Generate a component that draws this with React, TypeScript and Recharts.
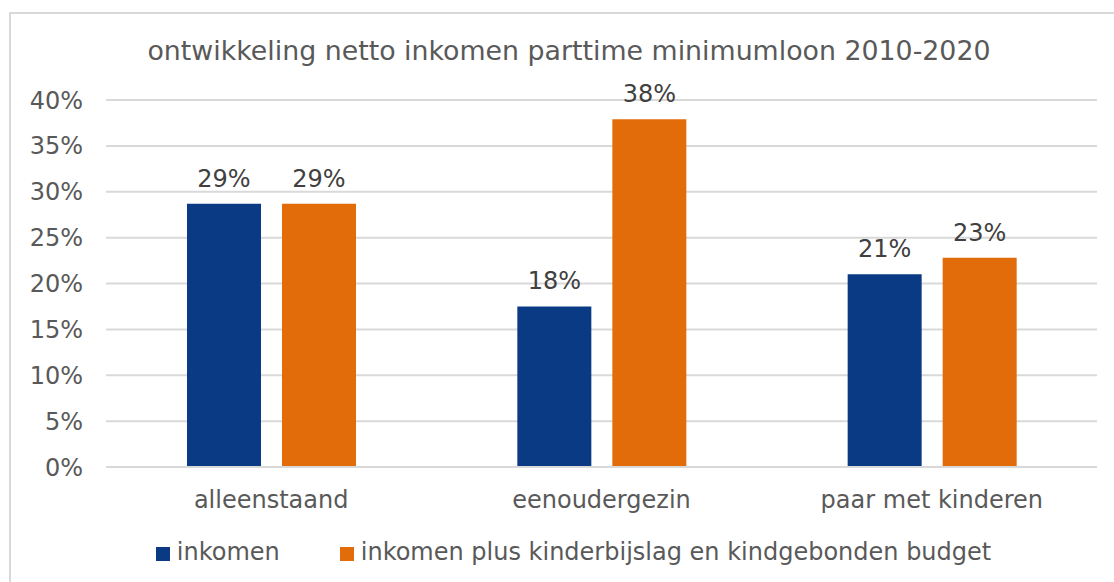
import React from "react";
import {
  BarChart,
  Bar,
  XAxis,
  YAxis,
  CartesianGrid,
  Legend,
  LabelList,
} from "recharts";

const categories = ["alleenstaand", "eenoudergezin", "paar met kinderen"];
const inkomen = [28.7, 17.5, 21.0];
const inkomenPlus = [28.7, 37.9, 22.8];
const yTicks = [0, 5, 10, 15, 20, 25, 30, 35, 40];

const seriesNames = {
  inkomen: "inkomen",
  plus: "inkomen plus kinderbijslag en kindgebonden budget",
};

const BLUE = "#0A3A84";
const ORANGE = "#E36C0A";
const TEXT = "#595959";
const GRID = "#D9D9D9";
const FONT = "'DejaVu Sans', Verdana, sans-serif";

const data = categories.map((name, i) => ({
  name,
  inkomen: inkomen[i],
  plus: inkomenPlus[i],
}));

const pct = (v: any) => `${Math.round(Number(v))}%`;

const LegendContent = (props: any) => {
  const items = props.payload || [];
  return (
    <div style={{ display: "flex", justifyContent: "center", paddingLeft: 50, fontFamily: FONT, fontSize: 24, color: TEXT }}>
      {items.map((it: any, i: number) => (
        <div key={i} style={{ display: "flex", alignItems: "center", marginRight: i < items.length - 1 ? 60 : 0 }}>
          <span style={{ width: 14, height: 14, background: it.color, display: "inline-block", marginRight: 7, marginTop: 3 }} />
          <span>{it.value}</span>
        </div>
      ))}
    </div>
  );
};

export default function App() {
  return (
    <div style={{ position: "absolute", left: 0, top: 0, width: 1114, height: 582, overflow: "hidden", background: "#fff" }}>
      <div
        style={{
          position: "absolute",
          left: 9,
          top: 12,
          width: 1200,
          height: 700,
          border: `2px solid ${GRID}`,
        }}
      />
      <div
        style={{
          position: "absolute",
          left: 0,
          top: 35,
          width: 1138,
          textAlign: "center",
          fontFamily: FONT,
          fontSize: 26.8,
          color: TEXT,
          whiteSpace: "nowrap",
        }}
      >
        ontwikkeling netto inkomen parttime minimumloon 2010-2020
      </div>
      <div style={{ position: "absolute", left: 0, top: 0 }}>
        <BarChart
          width={1114}
          height={582}
          data={data}
          margin={{ top: 100, right: 17, bottom: 0, left: 0 }}
          barCategoryGap={81}
          barGap={21}
        >
          <CartesianGrid vertical={false} stroke={GRID} strokeWidth={2} />
          <XAxis
            dataKey="name"
            tickLine={false}
            axisLine={{ stroke: GRID, strokeWidth: 2 }}
            tickMargin={18}
            height={87}
            tick={{ fill: TEXT, fontSize: 24, fontFamily: FONT }}
          />
          <YAxis
            domain={[0, 40]}
            ticks={yTicks}
            tickFormatter={(v) => `${v}%`}
            tickLine={false}
            axisLine={false}
            tickMargin={17}
            width={106}
            tick={{ fill: TEXT, fontSize: 24, fontFamily: FONT }}
          />
          <Legend
            verticalAlign="bottom"
            wrapperStyle={{ bottom: 16 }}
            content={<LegendContent />}
          />
          <Bar dataKey="inkomen" name={seriesNames.inkomen} fill={BLUE} isAnimationActive={false}>
            <LabelList dataKey="inkomen" position="top" offset={17} formatter={pct} fill="#404040" fontSize={24} fontFamily={FONT} />
          </Bar>
          <Bar dataKey="plus" name={seriesNames.plus} fill={ORANGE} isAnimationActive={false}>
            <LabelList dataKey="plus" position="top" offset={17} formatter={pct} fill="#404040" fontSize={24} fontFamily={FONT} />
          </Bar>
        </BarChart>
      </div>
    </div>
  );
}
